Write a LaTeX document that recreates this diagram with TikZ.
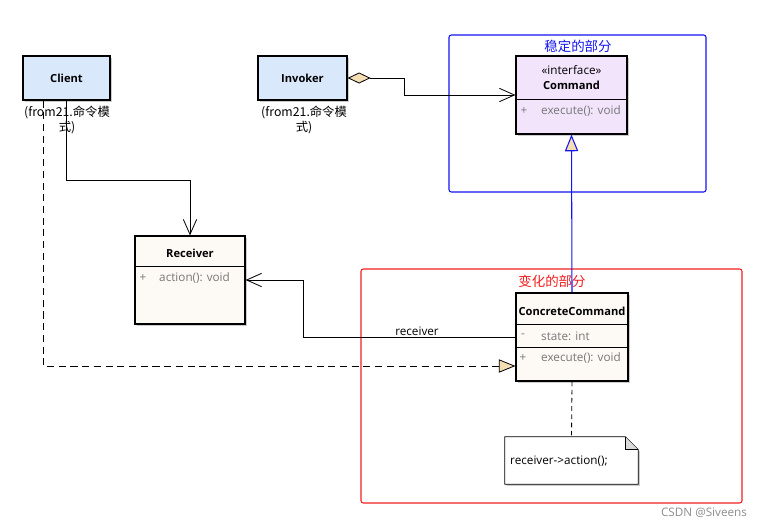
\documentclass[tikz,border=0pt]{standalone}
\usepackage{fontspec}
\setmainfont{Open Sans}
\newfontfamily\cjk{Noto Sans CJK SC}
\usetikzlibrary{arrows.meta, calc, positioning, shadows}
\definecolor{clientblue}{RGB}{218,232,252}
\definecolor{ifacepurple}{RGB}{241,228,251}
\definecolor{classcream}{RGB}{253,249,245}
\definecolor{tipwheat}{RGB}{245,222,179}
\definecolor{membergray}{RGB}{120,120,120}
\definecolor{framered}{RGB}{240,30,30}
\definecolor{frameblue}{RGB}{20,20,240}
\tikzset{
  x=0.03cm, y=-0.03cm, % one unit is one pixel of the sketch
  every node/.style={font=\fontsize{10}{12}\selectfont},
  cls/.style={draw, line width=1pt, rectangle, inner sep=0pt,
    drop shadow={shadow xshift=1.3pt, shadow yshift=-1.3pt, fill=black!40}}, % class boxes
  title/.style={font=\fontsize{9.5}{11}\selectfont\bfseries},
  member/.style={text=membergray},
  fromlbl/.style={font=\cjk\fontsize{10.5}{12.5}\selectfont, align=center},
  frame/.style={draw, rounded corners=2pt, line width=0.9pt, inner sep=0pt},
  frametitle/.style={font=\cjk\fontsize{11.5}{13}\selectfont},
  link/.style={line width=0.7pt},
  open/.style={link, -{Straight Barb[length=0.45cm, width=0.4cm]}}, % plain association
  realize/.style={link, dash pattern=on 6pt off 4pt,
    -{Triangle[fill=tipwheat, length=0.5cm, width=0.4cm]}},
}

\begin{document}
\begin{tikzpicture}
  \useasboundingbox (0,0) rectangle (766,527);

  % the two groups
  \node[frame, draw=frameblue, minimum width=7.71cm, minimum height=4.71cm] (stable) at (577.5,113.5) {};
  \node[frametitle, text=frameblue] (stabletitle) at (578,46) {稳定的部分};
  \node[frame, draw=framered, minimum width=11.43cm, minimum height=7.02cm] (varying) at (551.5,386) {};
  \node[frametitle, text=framered] (varyingtitle) at (552,281) {变化的部分};

  % classes
  \node[cls, fill=clientblue, minimum width=2.61cm, minimum height=1.32cm, title] (client) at (66.5,78) {Client};
  \node[fromlbl] (clientfrom) at (67,120) {(from21.命令模\\式)};

  \node[cls, fill=clientblue, minimum width=2.67cm, minimum height=1.32cm, title] (invoker) at (302.5,78) {Invoker};
  \node[fromlbl] (invokerfrom) at (304,120) {(from21.命令模\\式)};

  \node[cls, fill=ifacepurple, minimum width=3.33cm, minimum height=2.34cm] (command) at (571.5,95) {};
  \node (cmdstereo) at (571.5,70) {«interface»};
  \node[title] (cmdname) at (571.5,85) {Command};
  \draw (516,99) -- (627,99);
  \node[member] (cmdplus) at (524,111) {+};
  \node[member, anchor=west, inner xsep=0pt] (cmdexec) at (541,111) {execute(): void};

  \node[cls, fill=classcream, minimum width=3.3cm, minimum height=2.64cm] (receiver) at (190,280) {};
  \node[title] (recvname) at (190,253) {Receiver};
  \draw (135,266) -- (245,266);
  \node[member] (recvplus) at (143,278) {+};
  \node[member, anchor=west, inner xsep=0pt] (recvaction) at (159,278) {action(): void};

  \node[cls, fill=classcream, minimum width=3.36cm, minimum height=2.64cm] (concrete) at (572,337) {};
  \node[title] (concname) at (572,311) {ConcreteCommand};
  \draw (516,324) -- (628,324);
  \node[member] (concminus) at (523,336) {-};
  \node[member, anchor=west, inner xsep=0pt] (concstate) at (541,336) {state: int};
  \draw (516,347) -- (628,347);
  \node[member] (concplus) at (523,358) {+};
  \node[member, anchor=west, inner xsep=0pt] (concexec) at (541,358) {execute(): void};

  % note
  \node[minimum width=3.99cm, minimum height=1.41cm, inner sep=0pt] (note) at (571.5,460.5) {};
  \filldraw[fill=white, line width=0.7pt, drop shadow={shadow xshift=1.3pt, shadow yshift=-1.3pt, fill=black!40}]
    (note.north west) -- ($(note.north east)+(-13,0)$) -- ($(note.north east)+(0,13)$)
    -- (note.south east) -- (note.south west) -- cycle;
  \filldraw[fill=black!15, line width=0.7pt] ($(note.north east)+(-13,0)$) -- ++(0,13) -- ++(13,0);
  \node[anchor=west, inner xsep=0pt] (notetext) at (510,461) {receiver->action();};

  % connectors
  \draw[link, {Diamond[fill=tipwheat, length=0.69cm, width=0.33cm]}-{Straight Barb[length=0.45cm, width=0.4cm]}]
    (invoker.east) -- ++(57,0) |- (command.west);
  \draw[open] (client.south) -- (66.5,180) -| (receiver.north);
  \draw[open] (concrete.west) -- (303,337) |- (receiver.east);
  \node[above, inner sep=1pt] (recvlabel) at (417,337) {receiver};
  \draw[realize] ($(client.south)+(-23.5,0)$) |- ($(concrete.west)+(0,29)$);
  \draw[link, line width=0.9pt, frameblue, -{Triangle[fill=tipwheat, length=0.5cm, width=0.4cm]}] (concrete.north) -- (command.south);
  \draw[link, dash pattern=on 4pt off 3pt] (concrete.south) -- (note.north);

  \node[text=black!45, font=\fontsize{10}{12}\selectfont] (mark) at (704,513) {CSDN @Siveens};
\end{tikzpicture}
\end{document}
